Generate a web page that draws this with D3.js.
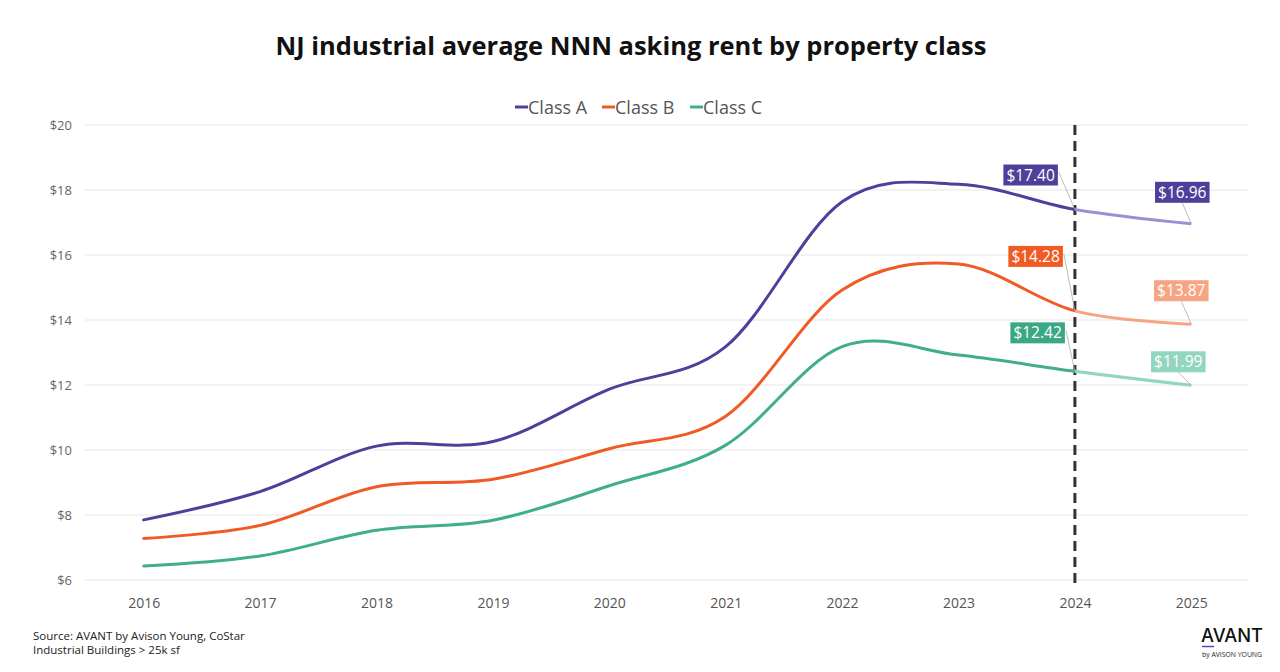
<!DOCTYPE html>
<html>
<head>
<meta charset="utf-8">
<script src="https://cdn.jsdelivr.net/npm/d3@7/dist/d3.min.js"></script>
<style>
  html, body { margin: 0; padding: 0; background: #fff; }
  svg { display: block; font-family: "Open Sans", "Noto Sans", sans-serif; }
</style>
</head>
<body>
<svg id="chart" width="1280" height="672"></svg>
<script>
// ---- data ----
const years = ["2016","2017","2018","2019","2020","2021","2022","2023","2024","2025"];
const seriesNames = ["Class A", "Class B", "Class C"];
const classA = [7.85, 8.72, 10.12, 10.26, 11.87, 13.18, 17.64, 18.18, 17.40, 16.96];
const classB = [7.28, 7.68, 8.87, 9.10, 10.04, 11.04, 14.92, 15.72, 14.28, 13.87];
const classC = [6.43, 6.74, 7.53, 7.84, 8.90, 10.15, 13.18, 12.92, 12.42, 11.99];
const yTicks = [6, 8, 10, 12, 14, 16, 18, 20];
const title = "NJ industrial average NNN asking rent by property class";
const sourceLines = ["Source: AVANT by Avison Young, CoStar", "Industrial Buildings > 25k sf"];
const forecastStart = "2024";

// ---- styles / layout ----
const colors = ["#4e3f9b", "#f05a24", "#3fae8b"];
const lightColors = ["#9a8fd4", "#f5a583", "#93d6bf"];
const labelBoxColors = {
  "2024": ["#4e3f9b", "#f05a24", "#3aa884"],
  "2025": ["#4e3f9b", "#f5a583", "#93d6bf"]
};
const labelLayout = {
  "2024": [{right: -17, up: 24}, {right: -12, up: 44}, {right: -10, up: 28}],
  "2025": [{cx: -9, up: 21}, {cx: -10, up: 23}, {cx: -13, up: 13}]
};

(function () {
const svg = d3.select("#chart");
const W = 1280, H = 672;
const pLeft = 85.5, pRight = 1249.5, pTop = 125, pBottom = 580;

const x = d3.scalePoint().domain(years).range([pLeft, pRight]).padding(0.5);
const y = d3.scaleLinear().domain([6, 20]).range([pBottom, pTop]);

svg.append("text")
  .attr("x", 631).attr("y", 55)
  .attr("text-anchor", "middle")
  .attr("font-size", 25.5).attr("font-weight", 700).attr("fill", "#111")
  .text(title);

svg.append("g").selectAll("line").data(yTicks).join("line")
  .attr("x1", 85).attr("x2", 1248)
  .attr("y1", d => y(d)).attr("y2", d => y(d))
  .attr("stroke", "#e6e6e6").attr("stroke-width", 1);

const yAxis = svg.append("g").attr("transform", `translate(72,0)`)
  .call(d3.axisLeft(y).tickValues(yTicks).tickSize(0).tickPadding(0).tickFormat(d => "$" + d));
yAxis.select(".domain").remove();
yAxis.selectAll("text").attr("font-size", 13).attr("fill", "#666").attr("font-family", "Open Sans");

const xAxis = svg.append("g").attr("transform", `translate(0,${pBottom + 10})`)
  .call(d3.axisBottom(x).tickSize(0).tickPadding(8));
xAxis.select(".domain").remove();
xAxis.selectAll("text").attr("font-size", 14).attr("fill", "#555").attr("font-family", "Open Sans");

const xf = x(forecastStart);
const defs = svg.append("defs");
defs.append("clipPath").attr("id", "clipActual").append("rect")
  .attr("x", 0).attr("y", 0).attr("width", xf).attr("height", H);
defs.append("clipPath").attr("id", "clipForecast").append("rect")
  .attr("x", xf).attr("y", 0).attr("width", W - xf).attr("height", H);

const allSeries = [classA, classB, classC];
const line = d3.line()
  .x((d, i) => x(years[i]))
  .y(d => y(d))
  .curve(d3.curveCardinal.tension(0));

svg.append("line")
  .attr("x1", xf).attr("x2", xf)
  .attr("y1", pTop).attr("y2", pBottom + 3)
  .attr("stroke", "#333").attr("stroke-width", 3)
  .attr("stroke-dasharray", "10,6");

allSeries.forEach((vals, si) => {
  svg.append("path").datum(vals)
    .attr("d", line).attr("fill", "none")
    .attr("stroke", lightColors[si]).attr("stroke-width", 3)
    .attr("clip-path", "url(#clipForecast)");
  svg.append("path").datum(vals)
    .attr("d", line).attr("fill", "none")
    .attr("stroke", colors[si]).attr("stroke-width", 3)
    .attr("stroke-linecap", "round")
    .attr("clip-path", "url(#clipActual)");
});

["2024", "2025"].forEach(yr => {
  const idx = years.indexOf(yr);
  allSeries.forEach((vals, si) => {
    const v = vals[idx];
    const px = x(yr), py = y(v);
    const lay = labelLayout[yr][si];
    const g = svg.append("g");
    const t = g.append("text")
      .attr("font-size", 15.5).attr("fill", "#fff")
      .attr("font-family", "Open Sans")
      .text("$" + v.toFixed(2));
    const bb = t.node().getBBox();
    const bw = bb.width + 6, bh = 21;
    let bx;
    if (lay.right !== undefined) bx = px + lay.right - bw;
    else bx = px + lay.cx - bw / 2;
    const by = py - lay.up - bh;
    let lx1, ly1;
    if (lay.right !== undefined) { lx1 = bx + bw + 1; ly1 = by + 8; }
    else { lx1 = bx + bw / 2; ly1 = by + bh; }
    g.insert("line", "text")
      .attr("x1", lx1).attr("y1", ly1).attr("x2", px).attr("y2", py)
      .attr("stroke", "#aaa").attr("stroke-width", 0.8);
    g.insert("rect", "text")
      .attr("x", bx).attr("y", by).attr("width", bw).attr("height", bh)
      .attr("fill", labelBoxColors[yr][si]);
    t.attr("x", bx + 3).attr("y", by + 16);
  });
});

const legendItems = [
  {name: seriesNames[0], x: 515},
  {name: seriesNames[1], x: 602},
  {name: seriesNames[2], x: 690}
];
const lg = svg.append("g");
legendItems.forEach((it, i) => {
  lg.append("line")
    .attr("x1", it.x).attr("x2", it.x + 13)
    .attr("y1", 107).attr("y2", 107)
    .attr("stroke", colors[i]).attr("stroke-width", 3);
  lg.append("text")
    .attr("x", it.x + 13).attr("y", 114)
    .attr("font-size", 18).attr("fill", "#555")
    .text(it.name);
});

sourceLines.forEach((s, i) => {
  svg.append("text")
    .attr("x", 33).attr("y", 640 + i * 13.5)
    .attr("font-size", 11.5).attr("fill", "#222")
    .text(s);
});

const logo = svg.append("g");
logo.append("text").attr("x", 1201).attr("y", 642)
  .attr("font-size", 19).attr("font-weight", 500).attr("fill", "#111")
  .attr("font-family", "Inter, Open Sans")
  .attr("textLength", 62).attr("lengthAdjust", "spacingAndGlyphs")
  .text("AVANT");
logo.append("line").attr("x1", 1202).attr("x2", 1214)
  .attr("y1", 646.5).attr("y2", 646.5)
  .attr("stroke", "#5b45b0").attr("stroke-width", 1.5);
logo.append("text").attr("x", 1202).attr("y", 657)
  .attr("font-size", 7).attr("fill", "#222")
  .attr("textLength", 60).attr("lengthAdjust", "spacingAndGlyphs")
  .text("by AVISON YOUNG");
})();
</script>
</body>
</html>
